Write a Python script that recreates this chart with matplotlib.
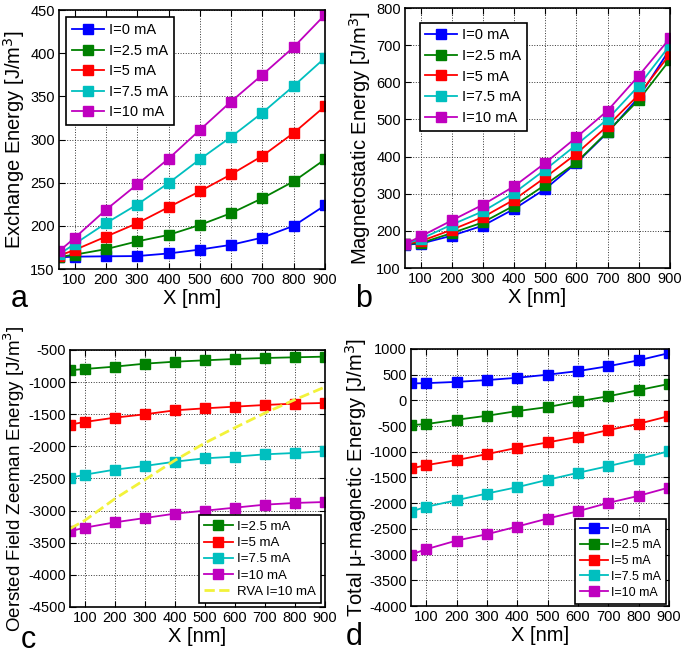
import matplotlib
matplotlib.use("Agg")
import matplotlib.pyplot as plt

plt.rcParams['font.family'] = ['Liberation Sans', 'DejaVu Sans']
plt.rcParams['axes.unicode_minus'] = False

x_nm = [50, 100, 200, 300, 400, 500, 600, 700, 800, 900]
x_ticks = [100, 200, 300, 400, 500, 600, 700, 800, 900]

labels = ["I=0 mA", "I=2.5 mA", "I=5 mA", "I=7.5 mA", "I=10 mA"]
colors = ["#0000ff", "#008000", "#ff0000", "#00bfbf", "#bf00bf"]

# panel a: exchange energy
exch = [
    [163.5, 164.3, 164.7, 165, 168, 172.5, 178, 186.4, 200, 223.6],
    [164, 166.6, 173, 182, 189.5, 201, 214.7, 232, 251.5, 277],
    [165.5, 172, 187.5, 203, 221.6, 240, 259.6, 281, 307.6, 338.5],
    [167, 179, 203, 224.7, 249.5, 277, 303, 331, 362, 394.6],
    [170.5, 186, 218.6, 248, 277.7, 311, 344, 375, 407, 444.5],
]

# panel b: magnetostatic energy
magn = [
    [163, 165.5, 187, 214, 259, 313, 383, 465, 560, 690],
    [165, 167, 194, 223, 268, 324, 384.5, 467, 553, 661],
    [165, 172, 203, 237, 284, 344, 408, 483, 567, 676],
    [165, 178, 216.7, 252.6, 302, 365, 432, 501, 591, 700],
    [164.6, 185, 228, 270.5, 320, 383, 452, 524, 618, 719],
]

# panel c: Oersted field Zeeman energy (no I=0 curve)
zee = [
    [-816, -796, -759, -713, -682, -661, -640, -625, -614, -604],
    [-1662, -1620, -1553, -1501, -1439, -1408, -1382, -1356, -1335, -1325],
    [-2492, -2440, -2362, -2305, -2238, -2186, -2160, -2124, -2103, -2077],
    [-3322, -3265, -3182, -3115, -3047, -3001, -2954, -2907, -2881, -2866],
]
rva = [-3281, -3151, -2814, -2518, -2217, -1947, -1709, -1480, -1273, -1076]

# panel d: total micromagnetic energy
total = [
    [330, 335, 360, 395, 440, 500, 570, 665, 780, 920],
    [-481, -461, -377, -299, -208, -130, -19, 80, 200, 320],
    [-1325, -1260, -1162, -1045, -922, -818, -708, -578, -455, -305],
    [-2162, -2071, -1942, -1812, -1688, -1545, -1409, -1279, -1143, -987],
    [-2999, -2896, -2727, -2604, -2454, -2299, -2156, -1994, -1857, -1695],
]


def style_axes(ax, ylim, yticks, ylabel, lpad=2, lsize=14.5):
    ax.set_xlim(50, 900)
    ax.set_xticks(x_ticks)
    ax.set_ylim(*ylim)
    ax.set_yticks(yticks)
    ax.grid(True, color='#333333', linestyle=':', linewidth=0.7)
    ax.tick_params(direction='in', top=True, right=True, labelsize=10.5, length=4, pad=3)
    for s in ax.spines.values():
        s.set_linewidth(1.2)
    ax.set_xlabel("X [nm]", fontsize=14.5, labelpad=1)
    ax.set_ylabel(ylabel, fontsize=lsize, labelpad=lpad)


def draw(ax, data, cols, labs):
    for y, c, l in zip(data, cols, labs):
        ax.plot(x_nm, y, color=c, marker='s', markersize=6.5, linewidth=1.3,
                label=l, markeredgecolor=c)


def legend(ax, loc, fs, pad, spacing):
    lg = ax.legend(loc=loc, fontsize=fs, fancybox=False, edgecolor='black',
                   framealpha=1, handlelength=2.2, borderaxespad=pad,
                   labelspacing=spacing, handletextpad=0.3, borderpad=0.4)
    lg.get_frame().set_linewidth(1.2)


fig = plt.figure(figsize=(6.85, 6.55), dpi=100)

ax_a = fig.add_axes([0.0861, 0.5893, 0.3883, 0.3954])
draw(ax_a, exch, colors, labels)
style_axes(ax_a, (150, 450), range(150, 451, 50), "Exchange Energy [J/m$^3$]")
legend(ax_a, 'upper left', 10.5, 0.5, 0.45)

ax_b = fig.add_axes([0.5912, 0.5908, 0.3869, 0.3969])
draw(ax_b, magn, colors, labels)
style_axes(ax_b, (100, 800), range(100, 801, 100), "Magnetostatic Energy [J/m$^3$]")
legend(ax_b, 'upper left', 10.5, 1.0, 0.45)

ax_c = fig.add_axes([0.1022, 0.0733, 0.3723, 0.3924])
draw(ax_c, zee, colors[1:], labels[1:])
ax_c.plot(x_nm, rva, color='#f2f23a', linestyle='--', linewidth=2, label="RVA I=10 mA")
style_axes(ax_c, (-4500, -500), range(-4500, -499, 500),
           "Oersted Field Zeeman Energy [J/m$^3$]", lpad=1, lsize=13.5)
legend(ax_c, 'lower right', 9.5, 0.3, 0.3)

ax_d = fig.add_axes([0.6, 0.0748, 0.3766, 0.3924])
draw(ax_d, total, colors, labels)
style_axes(ax_d, (-4000, 1000), range(-4000, 1001, 500),
           "Total \u03bc-magnetic Energy [J/m$^3$]", lpad=0)
legend(ax_d, 'lower right', 9, 0.2, 0.3)

for t, xx, yy in [("a", 0.015, 0.52), ("b", 0.518, 0.52), ("c", 0.03, 0.0), ("d", 0.505, 0.005)]:
    fig.text(xx, yy, t, fontsize=22, ha='left', va='bottom')

fig.savefig("out.png", dpi=100)
